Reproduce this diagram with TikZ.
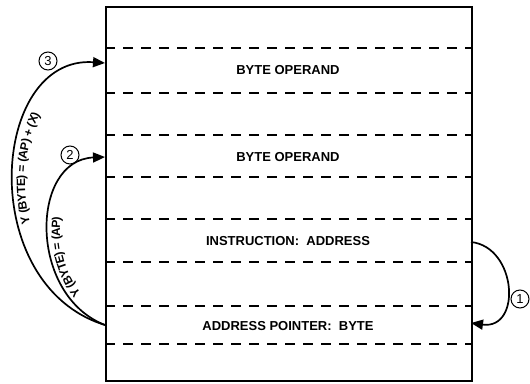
\documentclass[tikz,border=0pt]{standalone}
\usepackage{fontspec}
\setsansfont{Liberation Sans}
\usepackage{tikz}
\usetikzlibrary{arrows.meta, positioning, decorations.text}

\begin{document}
\begin{tikzpicture}[x=1pt, y=-1pt, font=\sffamily\bfseries\fontsize{13}{15}\selectfont,
    sep/.style={dash pattern=on 10pt off 8pt, line width=1.4pt},
    flow/.style={line width=1.7pt, -{Triangle[length=12pt, width=10pt]}},
    tag/.style={circle, draw, line width=1pt, inner sep=1pt, minimum size=18pt, font=\sffamily\fontsize{13}{14}\selectfont}]
        \useasboundingbox (0,0) rectangle (530,383);
        \node (mem) [draw, line width=1.8pt, anchor=north west, minimum width=366pt, minimum height=374pt, inner sep=0pt] at (105,6) {};
        \foreach \y in {48,93,135,177,219,262,306,344}
            \draw [sep] (105,\y) -- (471,\y);

        \node (op1) at (288,70) {BYTE OPERAND};
        \node (op2) at (288,157) {BYTE OPERAND};
        \node (ins) at (288,241) {INSTRUCTION:\ \ ADDRESS};
        \node (ptr) at (288,326) {ADDRESS POINTER:\ \ BYTE};

        \coordinate (ins-out) at (471,242);
        \coordinate (ptr-in) at (471,323);
        \coordinate (ptr-out) at (105,325);
        \coordinate (op2-in) at (105,157);
        \coordinate (op1-in) at (105,63);

        \node (n1) [tag] at (520,299) {1};
        \node (n2) [tag] at (70,155) {2};
        \node (n3) [tag] at (48,61) {3};

        \draw [flow] (ins-out) .. controls (517,247) and (522,330) .. (ptr-in);
        \draw [flow, postaction={decorate, decoration={text along path, raise=-12pt, text align={left indent=42pt},
            text={|\sffamily\bfseries\fontsize{12}{14}\selectfont|Y (BYTE) = (AP)}}}]
            (ptr-out) .. controls (28,295) and (30,160) .. (op2-in);
        \draw [flow, postaction={decorate, decoration={text along path, raise=-12pt, text align={left indent=138pt},
            text={|\sffamily\bfseries\fontsize{12}{14}\selectfont|Y (BYTE) = (AP) + (X)}}}]
            (ptr-out) .. controls (-25,285) and (-10,55) .. (op1-in);
    \end{tikzpicture}
\end{document}
